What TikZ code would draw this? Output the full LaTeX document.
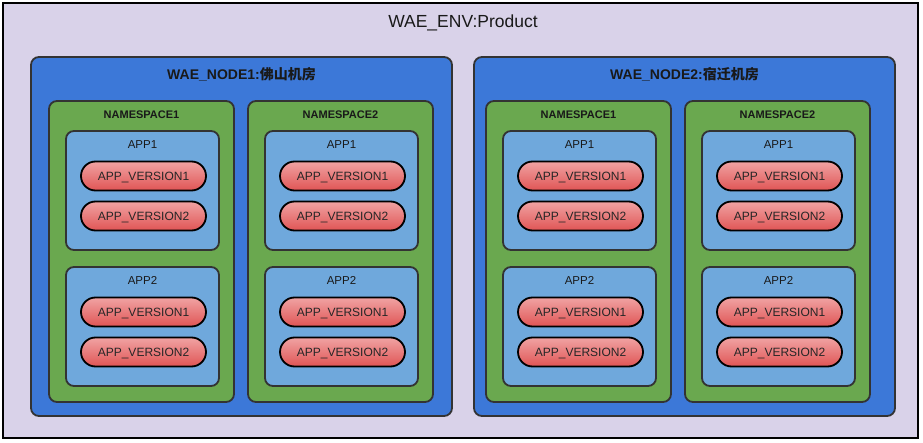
\documentclass[tikz,border=0pt]{standalone}
\usepackage{fontspec}
\setmainfont{Liberation Sans}
\newfontfamily\cjk{Noto Sans CJK SC}
\definecolor{envbg}{HTML}{D9D2E9}
\definecolor{nodebg}{HTML}{3C78D8}
\definecolor{nsbg}{HTML}{6AA84F}
\definecolor{appbg}{HTML}{6FA8DC}
\definecolor{pilltop}{HTML}{F0A3A3}
\definecolor{pillbot}{HTML}{E05555}
\definecolor{edge}{HTML}{333333}
\tikzset{
  envbox/.style={draw=black, line width=2pt, fill=envbg},
  nodebox/.style={draw=edge, line width=1.8pt, fill=nodebg, rounded corners=8pt},
  nsbox/.style={draw=edge, line width=1.8pt, fill=nsbg, rounded corners=8pt},
  appbox/.style={draw=edge, line width=1.8pt, fill=appbg, rounded corners=8pt},
  pill/.style={draw=black, line width=1.8pt, top color=pilltop, bottom color=pillbot, rounded corners=14.5pt, minimum width=125pt, minimum height=29pt, inner sep=0pt, text height=9pt, text depth=0pt, font=\fontsize{12}{14}\selectfont, text=black!85},
  envtitle/.style={font=\fontsize{17.5}{20}\selectfont, text=black!90},
  nodetitle/.style={font=\bfseries\fontsize{14}{16}\selectfont, text=black!90},
  nstitle/.style={font=\bfseries\fontsize{11}{13}\selectfont, text=black!90},
  apptitle/.style={font=\fontsize{11.5}{13}\selectfont, text=black!90},
}
\newcommand{\appblock}[4]{% #1 name prefix, #2 left x, #3 top y, #4 label
  \draw[appbox] (#2,#3) rectangle ++(153,119);
  \node[apptitle] (#1t) at (#2+76.5,#3+13.5) {#4};
  \node[pill] (#1v1) at (#2+77.5,#3+45) {APP\_VERSION1};
  \node[pill] (#1v2) at (#2+77.5,#3+85) {APP\_VERSION2};
}
\newcommand{\nsblock}[4]{% #1 prefix, #2 left x, #3 label, #4 app left x
  \draw[nsbox] (#2,101) rectangle ++(185,301);
  \node[nstitle] (#1t) at (#2+92.5,114.5) {#3};
  \appblock{#1a}{#4}{131}{APP1}
  \appblock{#1b}{#4}{267}{APP2}
}
\begin{document}
\begin{tikzpicture}[x=1pt,y=-1pt]
\useasboundingbox (0,0) rectangle (923,443);
\draw[envbox] (3,3) rectangle (918,438);
\node[envtitle] (env) at (463,22.5) {WAE\_ENV:Product};
% node 1
\draw[nodebox] (31,57) rectangle (452,416);
\node[nodetitle] (n1) at (241.5,74.5) {WAE\_NODE1:{\cjk 佛山机房}};
\nsblock{na}{49}{NAMESPACE1}{66}
\nsblock{nb}{248}{NAMESPACE2}{265}
% node 2
\draw[nodebox] (474,57) rectangle (895,416);
\node[nodetitle] (n2) at (684.5,74.5) {WAE\_NODE2:{\cjk 宿迁机房}};
\nsblock{nc}{486}{NAMESPACE1}{503}
\nsblock{nd}{685}{NAMESPACE2}{702}
\end{tikzpicture}
\end{document}
